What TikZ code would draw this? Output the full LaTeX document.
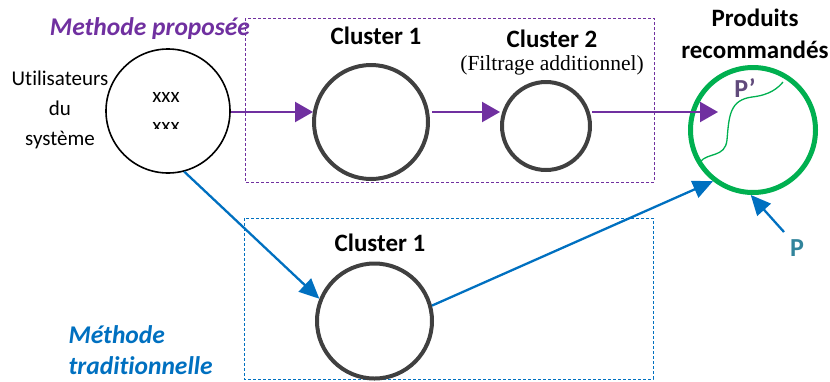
\documentclass[tikz,border=0pt]{standalone}
\usepackage{fontspec}
\setmainfont[Ligatures={NoCommon}]{Carlito}
\newfontfamily\tnr{Liberation Serif}
\usetikzlibrary{arrows.meta}
\definecolor{pur}{HTML}{7030A0}
\definecolor{blu}{HTML}{0070C0}
\definecolor{grn}{HTML}{00B050}
\definecolor{gry}{HTML}{404040}
\definecolor{ppr}{HTML}{604A7B}
\definecolor{tea}{HTML}{31849B}
\begin{document}
\begin{tikzpicture}[x=1pt,y=-1pt,
  lbl/.style={font=\fontsize{25}{30}\selectfont\bfseries},
  meth/.style={font=\fontsize{25.5}{31}\selectfont\bfseries\itshape},
  clus/.style={circle, draw=gry, line width=4, inner sep=0},
  parrow/.style={draw=pur, line width=2.3, -{Triangle[length=18,width=20]}},
  barrow/.style={draw=blu, line width=2.3, -{Triangle[length=20,width=18]}},
  pbox/.style={draw=pur, line width=1, dash pattern=on 3pt off 2pt},
  bbox/.style={draw=blu, line width=1, dash pattern=on 3pt off 2pt}]
\useasboundingbox (0,0) rectangle (830,381);

% dashed boxes
\draw[pbox] (245,18) rectangle (654,182);
\draw[bbox] (244,218) rectangle (653,379);

% circles
\node[circle, draw=black, line width=1.6, minimum size=124, inner sep=0] (user) at (168,111) {};
\node[clus, minimum size=114] (c1) at (371,122) {};
\node[clus, minimum size=88] (c2) at (546,126) {};
\node[clus, minimum size=115] (c1b) at (374.5,321) {};
\node[circle, draw=grn, line width=5, minimum size=125, inner sep=0] (prod) at (753,130) {};

% texts
\node[meth, text=pur] (tmp) at (150,29) {Methode proposée};
\node[meth, text=blu, align=left, anchor=north west] (ttr) at (65,322) {Méthode\\traditionnelle};
\node[font=\fontsize{21}{30}\selectfont, align=center] (tusr) at (60,110) {Utilisateurs\\du\\système};
\node[font=\fontsize{21}{25}\selectfont] (x1) at (166,97) {xxx};
\begin{scope}
\clip (120,80) rectangle (220,128);
\node[font=\fontsize{21}{25}\selectfont] (x2) at (166,127) {xxx};
\end{scope}
\node[lbl] (tc1) at (376,36) {Cluster 1};
\node[lbl] (tc2) at (552,39) {Cluster 2};
\node[font=\fontsize{21.5}{25}\selectfont\tnr] (tfil) at (552,65) {(Filtrage additionnel)};
\node[lbl] (tc1b) at (380,243) {Cluster 1};
\node[font=\fontsize{25}{32}\selectfont\bfseries, align=center] (tprod) at (755,34) {Produits\\recommandés};
\node[font=\fontsize{26}{30}\selectfont\bfseries, text=ppr] (tpp) at (745,88) {P’};
\node[font=\fontsize{26}{30}\selectfont\bfseries, text=tea] (tp) at (797,248) {P};

% squiggle
\draw[grn, line width=1.3] (700,162) .. controls (708,152) and (725,158) .. (727,140)
  .. controls (729,115) and (730,100) .. (752,97)
  .. controls (770,95) and (778,88) .. (783,82);

% coordinates
\coordinate (a0) at (231,112);
\coordinate (a1) at (313,112);
\coordinate (a2) at (432,112);
\coordinate (a3) at (500,112);
\coordinate (a4) at (592,112);
\coordinate (a5) at (718,112);
\coordinate (ps) at (784,232);

% arrows
\draw[parrow] (a0) -- (a1);
\draw[parrow] (a2) -- (a3);
\draw[parrow] (a4) -- (a5);
\draw[barrow] (user.-75) -- (c1b.158);
\draw[barrow] (c1b.15) -- (prod.232);
\draw[barrow] (ps) -- (prod.268);
\end{tikzpicture}
\end{document}
